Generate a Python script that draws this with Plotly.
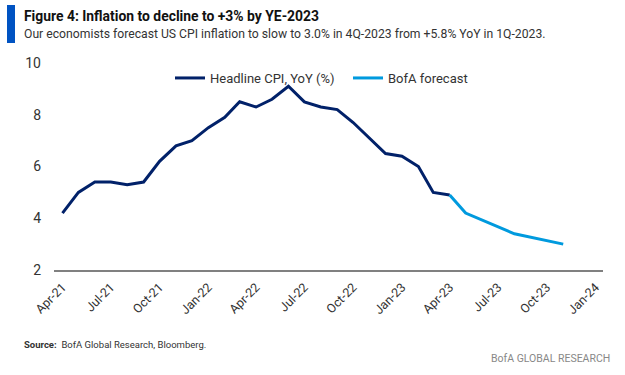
import plotly.graph_objects as go

# ---- data ----
actual_dates = [
    "2021-04-01", "2021-05-01", "2021-06-01", "2021-07-01", "2021-08-01", "2021-09-01",
    "2021-10-01", "2021-11-01", "2021-12-01", "2022-01-01", "2022-02-01", "2022-03-01",
    "2022-04-01", "2022-05-01", "2022-06-01", "2022-07-01", "2022-08-01", "2022-09-01",
    "2022-10-01", "2022-11-01", "2022-12-01", "2023-01-01", "2023-02-01", "2023-03-01",
    "2023-04-01",
]
actual_cpi = [4.2, 5.0, 5.4, 5.4, 5.3, 5.4, 6.2, 6.8, 7.0, 7.5, 7.9, 8.5,
              8.3, 8.6, 9.1, 8.5, 8.3, 8.2, 7.7, 7.1, 6.5, 6.4, 6.0, 5.0, 4.9]

forecast_dates = ["2023-04-01", "2023-05-01", "2023-08-01", "2023-11-01"]
forecast_cpi = [4.9, 4.2, 3.4, 3.0]

tick_dates = ["2021-04-01", "2021-07-01", "2021-10-01", "2022-01-01", "2022-04-01",
              "2022-07-01", "2022-10-01", "2023-01-01", "2023-04-01", "2023-07-01",
              "2023-10-01", "2024-01-01"]
tick_labels = ["Apr-21", "Jul-21", "Oct-21", "Jan-22", "Apr-22", "Jul-22",
               "Oct-22", "Jan-23", "Apr-23", "Jul-23", "Oct-23", "Jan-24"]
y_ticks = [2, 4, 6, 8, 10]

title_text = "Figure 4: Inflation to decline to +3% by YE-2023"
subtitle_text = "Our economists forecast US CPI inflation to slow to 3.0% in 4Q-2023 from +5.8% YoY in 1Q-2023."
source_label = "Source:"
source_text = "BofA Global Research, Bloomberg."
brand_text = "BofA GLOBAL RESEARCH"

# ---- layout geometry (pixels) ----
W, H = 625, 375
L, R, T, B = 54, 603, 63, 270
PW, PH = R - L, B - T

def px(x):
    return (x - L) / PW

def py(y):
    return (B - y) / PH

FONT = "Roboto, Liberation Sans, sans-serif"
NAVY = "#012169"
LIGHT = "#009ADE"
TXT = "#333333"

fig = go.Figure()
fig.add_trace(go.Scatter(x=actual_dates, y=actual_cpi, mode="lines",
                         name="Headline CPI, YoY (%)",
                         line=dict(color=NAVY, width=3)))
fig.add_trace(go.Scatter(x=forecast_dates, y=forecast_cpi, mode="lines",
                         name="BofA forecast",
                         line=dict(color=LIGHT, width=3)))

fig.update_layout(
    width=W, height=H,
    margin=dict(l=L, r=W - R, t=T, b=H - B, pad=0),
    paper_bgcolor="white", plot_bgcolor="white",
    font=dict(family=FONT, size=13, color=TXT),
    showlegend=True,
    legend=dict(orientation="h", x=px(170), xanchor="left", y=py(78), yanchor="middle",
                font=dict(family=FONT, size=13, color=TXT),
                bgcolor="rgba(0,0,0,0)", entrywidth=133, entrywidthmode="pixels",
                itemwidth=30, tracegroupgap=0),
    xaxis=dict(type="date", range=["2021-03-16", "2024-01-15"],
               tickmode="array", tickvals=tick_dates, ticktext=tick_labels,
               tickangle=-45, showgrid=False, zeroline=False,
               showline=True, linecolor="#808080", linewidth=2,
               ticks="", ticklabelstandoff=3,
               tickfont=dict(family=FONT, size=12.5, color=TXT)),
    yaxis=dict(range=[2, 10], tickmode="array", tickvals=y_ticks,
               showgrid=False, zeroline=False, showline=False, ticks="",
               ticklabelstandoff=12,
               tickfont=dict(family=FONT, size=14, color=TXT)),
    shapes=[dict(type="rect", xref="paper", yref="paper",
                 x0=px(7), x1=px(15), y0=py(43), y1=py(5),
                 fillcolor="#0053C2", line=dict(width=0))],
    annotations=[
        dict(text="<b>" + title_text + "</b>", xref="paper", yref="paper",
             x=px(22), y=py(16), xanchor="left", yanchor="middle", showarrow=False,
             font=dict(family=FONT, size=13.9, color="#111111")),
        dict(text=subtitle_text, xref="paper", yref="paper",
             x=px(22), y=py(34), xanchor="left", yanchor="middle", showarrow=False,
             font=dict(family=FONT, size=12.2, color=TXT)),
        dict(text="<b>" + source_label + "</b>  " + source_text, xref="paper", yref="paper",
             x=px(22), y=py(344), xanchor="left", yanchor="middle", showarrow=False,
             font=dict(family=FONT, size=9.5, color=TXT)),
        dict(text=brand_text, xref="paper", yref="paper",
             x=px(612), y=py(358), xanchor="right", yanchor="middle", showarrow=False,
             font=dict(family=FONT, size=10.5, color="#888888")),
    ],
)

fig.write_html("out.html",
               config={"displayModeBar": False},
               post_script="document.body.style.margin='0';document.body.style.overflow='hidden';")
